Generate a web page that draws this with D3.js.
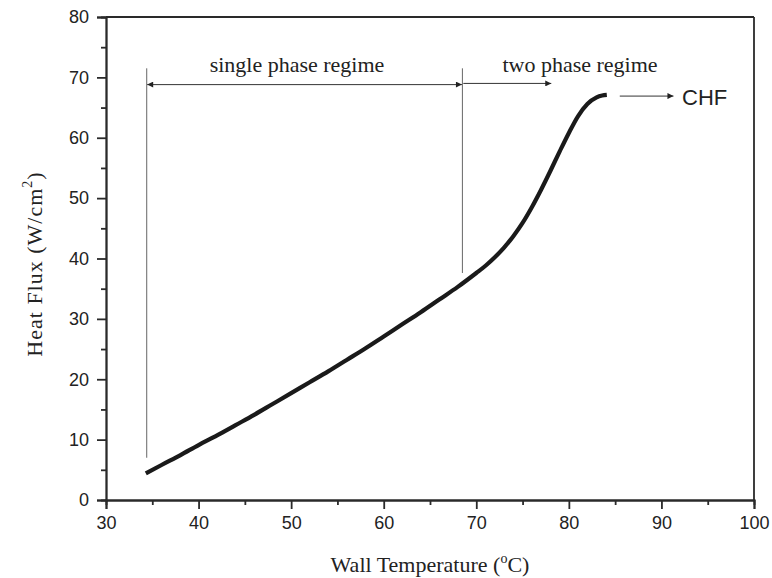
<!DOCTYPE html>
<html><head><meta charset="utf-8">
<script src="https://cdn.jsdelivr.net/npm/d3@7"></script>
<style>body{margin:0;background:#fff}svg{display:block}</style>
</head><body>
<svg id="c" width="772" height="578"></svg>
<script>
const wallTemp = [34.3, 36.0, 38.0, 40.0, 42.0, 44.0, 46.0, 48.0, 50.0, 52.0, 54.0, 56.0, 58.0, 60.0, 62.0, 64.0, 66.0, 68.0, 70.0, 71.0, 72.0, 73.0, 74.0, 75.0, 76.0, 77.0, 78.0, 79.0, 80.0, 81.0, 82.0, 83.0, 83.6, 84.1];
const heatFlux = [4.4, 5.8, 7.4, 9.1, 10.7, 12.4, 14.1, 15.9, 17.7, 19.5, 21.3, 23.2, 25.1, 27.1, 29.1, 31.1, 33.2, 35.3, 37.6, 38.8, 40.2, 41.8, 43.7, 45.9, 48.5, 51.4, 54.5, 57.7, 60.8, 63.6, 65.6, 66.7, 67.0, 67.1];
const xTicks = [30, 40, 50, 60, 70, 80, 90, 100];
const yTicks = [0, 10, 20, 30, 40, 50, 60, 70, 80];
const xMinor = [35, 45, 55, 65, 75, 85, 95];
const yMinor = [5, 15, 25, 35, 45, 55, 65, 75];

const svg = d3.select('#c');
const L = 106, R = 754, T = 17, B = 500;
const x = d3.scaleLinear().domain([30, 100]).range([L, R]);
const y = d3.scaleLinear().domain([0, 80]).range([B, T]);
const axisCol = '#2a2a2a';

svg.append('line').attr('x1', L).attr('x2', R).attr('y1', T).attr('y2', T).attr('stroke', axisCol).attr('stroke-width', 1.8);
svg.append('line').attr('x1', R).attr('x2', R).attr('y1', T).attr('y2', B).attr('stroke', axisCol).attr('stroke-width', 1.8);

function styleAxis(g) {
  g.select('.domain').attr('stroke', axisCol).attr('stroke-width', 1.8);
  g.selectAll('.tick line').attr('stroke', axisCol).attr('stroke-width', 1.8);
  g.selectAll('.tick text').attr('fill', '#222').style('font-family', '"Liberation Sans", Arial, sans-serif').style('font-size', '18px');
}
const gx = svg.append('g').attr('transform', `translate(0,${B})`)
  .call(d3.axisBottom(x).tickValues(xTicks).tickSize(9).tickPadding(7).tickFormat(d3.format('d')));
styleAxis(gx);
const gxm = svg.append('g').attr('transform', `translate(0,${B})`)
  .call(d3.axisBottom(x).tickValues(xMinor).tickSize(5).tickFormat(''));
styleAxis(gxm);
const gy = svg.append('g').attr('transform', `translate(${L},0)`)
  .call(d3.axisLeft(y).tickValues(yTicks).tickSize(9).tickPadding(8).tickFormat(d3.format('d')));
styleAxis(gy);
const gym = svg.append('g').attr('transform', `translate(${L},0)`)
  .call(d3.axisLeft(y).tickValues(yMinor).tickSize(5).tickFormat(''));
styleAxis(gym);

const serif = '"Liberation Serif", "Times New Roman", serif';
const xt = svg.append('text').attr('x', 430).attr('y', 572).attr('text-anchor', 'middle')
  .style('font-family', serif).style('font-size', '22px').attr('fill', '#222');
xt.append('tspan').text('Wall Temperature (');
xt.append('tspan').attr('dy', -9).style('font-size', '14px').text('o');
xt.append('tspan').attr('dy', 9).text('C)');

const yt = svg.append('text').attr('transform', 'translate(42,264) rotate(-90)').attr('text-anchor', 'middle')
  .style('font-family', serif).style('font-size', '22px').style('letter-spacing', '1px').attr('fill', '#222');
yt.append('tspan').text('Heat Flux  (W/cm');
yt.append('tspan').attr('dy', -10).style('font-size', '14px').text('2');
yt.append('tspan').attr('dy', 10).text(')');

const defs = svg.append('defs');
defs.append('marker').attr('id', 'ah').attr('viewBox', '0 0 10 10').attr('refX', 10).attr('refY', 5)
  .attr('markerWidth', 13).attr('markerHeight', 6).attr('markerUnits', 'userSpaceOnUse').attr('orient', 'auto-start-reverse')
  .append('path').attr('d', 'M0,0L10,5L0,10Z').attr('fill', '#222');

const annCol = '#666';
svg.append('line').attr('x1', x(34.4)).attr('x2', x(34.4)).attr('y1', y(71.5)).attr('y2', y(7)).attr('stroke', annCol).attr('stroke-width', 1);
svg.append('line').attr('x1', x(68.5)).attr('x2', x(68.5)).attr('y1', y(71.5)).attr('y2', y(37.6)).attr('stroke', annCol).attr('stroke-width', 1);
svg.append('line').attr('x1', x(34.45)).attr('x2', x(68.45)).attr('y1', y(68.8)).attr('y2', y(68.8))
  .attr('stroke', '#333').attr('stroke-width', 1).attr('marker-start', 'url(#ah)').attr('marker-end', 'url(#ah)');
svg.append('line').attr('x1', x(68.6)).attr('x2', x(78.1)).attr('y1', y(69.0)).attr('y2', y(69.0))
  .attr('stroke', '#333').attr('stroke-width', 1).attr('marker-end', 'url(#ah)');
svg.append('line').attr('x1', x(85.5)).attr('x2', x(91.3)).attr('y1', y(66.9)).attr('y2', y(66.9))
  .attr('stroke', '#333').attr('stroke-width', 1).attr('marker-end', 'url(#ah)');

svg.append('text').attr('x', 297).attr('y', 72).attr('text-anchor', 'middle')
  .style('font-family', serif).style('font-size', '22px').attr('fill', '#222').text('single phase regime');
svg.append('text').attr('x', 580).attr('y', 72).attr('text-anchor', 'middle')
  .style('font-family', serif).style('font-size', '22px').attr('fill', '#222').text('two phase regime');
svg.append('text').attr('x', 682).attr('y', 105)
  .style('font-family', '"Liberation Sans", Arial, sans-serif').style('font-size', '22px').attr('fill', '#222').text('CHF');

const pts = wallTemp.map((t, i) => [t, heatFlux[i]]);
svg.append('path').datum(pts)
  .attr('d', d3.line().x(d => x(d[0])).y(d => y(d[1])).curve(d3.curveMonotoneX))
  .attr('fill', 'none').attr('stroke', '#1a1a1a').attr('stroke-width', 4.2).attr('stroke-linecap', 'butt');
</script>
</body></html>
